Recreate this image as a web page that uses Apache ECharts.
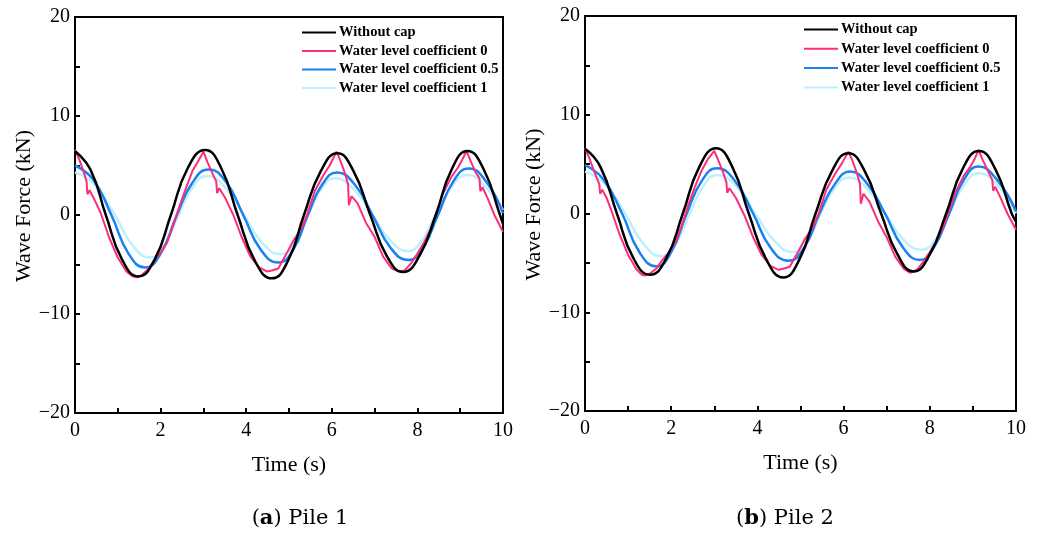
<!DOCTYPE html>
<html>
<head>
<meta charset="utf-8">
<title>Wave force on piles</title>
<script src="https://cdn.jsdelivr.net/npm/echarts@6/dist/echarts.min.js"></script>
<style>
  html, body { margin: 0; padding: 0; background: #fff; }
  #chart { width: 1042px; height: 538px; }
</style>
</head>
<body>
<div id="chart"></div>
<script>
// series names / colours
const seriesNames = ['Without cap', 'Water level coefficient 0', 'Water level coefficient 0.5', 'Water level coefficient 1'];
const seriesColors = ['#000000', '#fc2d7d', '#1b80f2', '#bdf1fa'];
const xTickLabels = [0, 2, 4, 6, 8, 10];
const yTickLabels = [-20, -10, 0, 10, 20];

// Pile 1 : [time (s), force (kN)]
const pile1WithoutCap = [[0,6.45],[0.36,4.6],[0.72,0],[1.1,-4.5],[1.48,-6.2],[1.86,-4.5],[2.24,0],[2.63,4.7],[3.04,6.57],[3.42,4.7],[3.8,0],[4.2,-4.6],[4.6,-6.4],[4.98,-4.6],[5.35,0],[5.74,4.4],[6.13,6.23],[6.51,4.4],[6.9,0],[7.28,-4.1],[7.67,-5.75],[8.05,-4.1],[8.43,0],[8.8,4.6],[9.17,6.46],[9.55,4.6],[9.93,0],[10,-0.9]];
const pile1Coef0 = [[0,6.6],[0.1,5.6],[0.2,4.4],[0.27,3.4],[0.29,2.1],[0.31,2.0],[0.34,2.5],[0.45,1.6],[0.6,0.2],[0.8,-2.3],[1.0,-4.3],[1.2,-5.7],[1.35,-6.2],[1.44,-6.3],[1.55,-6.1],[1.7,-5.5],[1.85,-4.6],[2.0,-3.8],[2.15,-2.8],[2.3,-1.0],[2.45,1.0],[2.6,2.8],[2.75,4.5],[2.9,5.6],[3.0,6.4],[3.1,5.3],[3.2,4.3],[3.3,3.4],[3.32,2.2],[3.34,2.1],[3.37,2.7],[3.5,1.8],[3.7,0],[3.9,-2.3],[4.1,-4.2],[4.3,-5.3],[4.48,-5.7],[4.6,-5.6],[4.75,-5.4],[4.93,-4.0],[5.1,-2.6],[5.3,-1.3],[5.42,0],[5.6,2.4],[5.8,4.0],[5.95,5.0],[6.11,6.4],[6.2,5.5],[6.3,4.3],[6.38,3.1],[6.4,1.0],[6.42,1.1],[6.46,1.9],[6.6,1.2],[6.8,-0.8],[7.0,-2.2],[7.2,-4.2],[7.4,-5.4],[7.55,-5.7],[7.7,-5.6],[7.85,-4.9],[8.0,-3.9],[8.15,-2.8],[8.3,-1.5],[8.45,0.3],[8.6,2.2],[8.8,3.9],[8.95,4.8],[9.05,5.6],[9.15,6.46],[9.25,5.4],[9.35,4.4],[9.45,3.7],[9.47,2.4],[9.49,2.3],[9.52,2.8],[9.65,1.6],[9.8,0],[10,-1.7]];
const pile1Coef05 = [[0,5.0],[0.42,3.6],[0.85,0],[1.25,-3.9],[1.64,-5.3],[2.0,-3.9],[2.38,0],[2.75,3.3],[3.12,4.6],[3.52,3.4],[3.93,0],[4.34,-3.5],[4.75,-4.8],[5.1,-3.5],[5.44,0],[5.78,3.1],[6.12,4.3],[6.53,3.1],[6.95,0],[7.37,-3.3],[7.79,-4.55],[8.13,-3.3],[8.48,0],[8.84,3.4],[9.2,4.7],[9.6,3.4],[10,0.17]];
const pile1Coef1 = [[0,4.3],[0.45,3.1],[0.93,0],[1.35,-3.1],[1.75,-4.3],[2.08,-3.1],[2.42,0],[2.75,2.8],[3.08,3.94],[3.5,2.85],[3.95,0],[4.38,-2.85],[4.8,-3.97],[5.13,-2.85],[5.45,0],[5.76,2.65],[6.07,3.7],[6.5,2.65],[6.95,0],[7.37,-2.6],[7.79,-3.64],[8.1,-2.6],[8.42,0],[8.8,2.85],[9.17,4.04],[9.58,2.9],[10,0.5]];

// Pile 2
const pile2WithoutCap = [[0,6.55],[0.36,4.7],[0.74,0],[1.12,-4.5],[1.51,-6.2],[1.89,-4.5],[2.27,0],[2.65,4.7],[3.04,6.6],[3.42,4.7],[3.8,0],[4.2,-4.6],[4.6,-6.48],[4.98,-4.6],[5.35,0],[5.73,4.3],[6.11,6.1],[6.49,4.3],[6.87,0],[7.25,-4.15],[7.62,-5.87],[8.0,-4.15],[8.38,0],[8.76,4.5],[9.14,6.33],[9.52,4.5],[9.9,0],[10,-0.8]];
const pile2Coef0 = [[0,6.6],[0.1,5.6],[0.2,4.4],[0.33,3.0],[0.35,2.0],[0.37,1.9],[0.4,2.4],[0.5,1.6],[0.62,0.2],[0.8,-2.1],[1.0,-4.2],[1.2,-5.7],[1.32,-6.2],[1.39,-6.28],[1.5,-6.1],[1.65,-5.6],[1.8,-4.7],[1.95,-3.9],[2.1,-2.9],[2.25,-1.2],[2.4,0.9],[2.55,2.7],[2.7,4.3],[2.85,5.5],[3.0,6.33],[3.1,5.3],[3.2,4.2],[3.28,3.2],[3.3,2.1],[3.32,2.05],[3.35,2.56],[3.5,1.6],[3.7,-0.2],[3.9,-2.4],[4.1,-4.2],[4.3,-5.3],[4.49,-5.7],[4.6,-5.6],[4.75,-5.4],[4.93,-4.0],[5.1,-2.6],[5.3,-1.3],[5.42,0],[5.6,2.4],[5.8,4.0],[5.95,5.0],[6.11,6.26],[6.2,5.4],[6.3,4.2],[6.38,3.0],[6.4,1.0],[6.42,1.05],[6.46,2.0],[6.6,1.2],[6.8,-0.8],[7.0,-2.4],[7.2,-4.4],[7.4,-5.6],[7.54,-6.0],[7.7,-5.7],[7.85,-4.9],[8.0,-3.9],[8.15,-2.8],[8.3,-1.5],[8.45,0.3],[8.6,2.2],[8.8,3.9],[8.95,4.8],[9.05,5.6],[9.13,6.43],[9.23,5.4],[9.35,4.3],[9.45,3.4],[9.47,2.3],[9.49,2.2],[9.52,2.7],[9.65,1.5],[9.8,0],[10,-1.65]];
const pile2Coef05 = [[0,4.9],[0.42,3.5],[0.86,0],[1.26,-3.9],[1.66,-5.35],[2.0,-3.9],[2.36,0],[2.71,3.3],[3.06,4.58],[3.48,3.3],[3.9,0],[4.31,-3.5],[4.72,-4.78],[5.08,-3.5],[5.44,0],[5.8,3.0],[6.15,4.25],[6.55,3.0],[6.96,0],[7.37,-3.4],[7.77,-4.7],[8.1,-3.4],[8.45,0],[8.79,3.4],[9.13,4.75],[9.56,3.4],[10,0.2]];
const pile2Coef1 = [[0,4.24],[0.45,3.05],[0.93,0],[1.36,-3.1],[1.78,-4.34],[2.1,-3.1],[2.43,0],[2.75,2.8],[3.06,3.9],[3.5,2.8],[3.95,0],[4.4,-2.8],[4.84,-3.9],[5.16,-2.8],[5.47,0],[5.8,2.6],[6.11,3.64],[6.53,2.6],[6.96,0],[7.39,-2.65],[7.81,-3.67],[8.13,-2.65],[8.45,0],[8.8,2.9],[9.13,4.07],[9.56,2.9],[10,0.03]];

const panels = [
  { data: [pile1WithoutCap, pile1Coef0, pile1Coef05, pile1Coef1], grid: { left: 75, top: 17, width: 428, height: 396 }, legendPos: { left: 301, top: 25, gap: 3.5 }, caption: 'a', pile: 'Pile 1', capX: 295 },
  { data: [pile2WithoutCap, pile2Coef0, pile2Coef05, pile2Coef1], grid: { left: 585, top: 16, width: 431, height: 395 }, legendPos: { left: 803, top: 22, gap: 4.3 }, caption: 'b', pile: 'Pile 2', capX: 780 }
];

const serif = 'Liberation Serif, Times New Roman, serif';
const lineWidths = [2.5, 2, 2.5, 2.5];
const smoothFlags = [0.5, false, 0.5, 0.5];

const minusFmt = v => (v < 0 ? '\u2212' + Math.abs(v) : String(v));

const option = {
  animation: false,
  backgroundColor: '#fff',
  title: [],
  legend: [],
  grid: [],
  xAxis: [],
  yAxis: [],
  series: []
};

panels.forEach((p, i) => {
  option.grid.push(Object.assign({ show: true, borderColor: '#000', borderWidth: 2, backgroundColor: 'transparent' }, p.grid));

  option.xAxis.push({
    type: 'value', gridIndex: i, min: 0, max: 10, interval: 1,
    name: 'Time (s)', nameLocation: 'middle', nameGap: 41,
    nameTextStyle: { fontFamily: serif, fontSize: 22, color: '#000' },
    axisLine: { show: true, onZero: false, lineStyle: { color: '#000', width: 2 } },
    axisTick: { show: true, inside: true, length: 5, lineStyle: { color: '#000', width: 2 } },
    axisLabel: { fontFamily: serif, fontSize: 20, color: '#000', margin: 8,
      formatter: v => (xTickLabels.includes(v) ? String(v) : '') },
    splitLine: { show: false }
  });

  option.yAxis.push({
    type: 'value', gridIndex: i, min: -20, max: 20, interval: 5,
    name: 'Wave Force (kN)', nameLocation: 'middle', nameGap: 40,
    nameTextStyle: { fontFamily: serif, fontSize: 22, color: '#000', padding: [0, 0, 0, 18] },
    axisLine: { show: true, onZero: false, lineStyle: { color: '#000', width: 2 } },
    axisTick: { show: true, inside: true, length: 5, lineStyle: { color: '#000', width: 2 } },
    axisLabel: { fontFamily: serif, fontSize: 20, color: '#000', margin: 5,
      formatter: v => (yTickLabels.includes(v) ? minusFmt(v) : '') },
    splitLine: { show: false }
  });

  p.data.forEach((d, k) => {
    option.series.push({
      type: 'line', name: seriesNames[k], xAxisIndex: i, yAxisIndex: i,
      data: d, symbol: 'none', smooth: smoothFlags[k], z: 10 - k,
      lineStyle: { color: seriesColors[k], width: lineWidths[k] },
      itemStyle: { color: seriesColors[k] }
    });
  });

  // legend: line icons only, symbol hidden
  option.legend.push({
    orient: 'vertical', left: p.legendPos.left, top: p.legendPos.top, padding: 0,
    data: seriesNames, itemWidth: 34, itemHeight: 14, itemGap: p.legendPos.gap,
    selectedMode: false,
    itemStyle: { opacity: 0 },
    textStyle: { fontFamily: serif, fontWeight: 'bold', fontSize: 14.5, color: '#000', padding: [0, 0, 0, -2] }
  });

  option.title.push({
    text: '(' + '{b|' + p.caption + '}' + ') ' + p.pile,
    left: p.capX, top: 503, textAlign: 'center',
    textStyle: { fontFamily: 'DejaVu Serif, serif', fontSize: 21, fontWeight: 'normal', color: '#000',
      rich: { b: { fontFamily: 'DejaVu Serif, serif', fontSize: 21, fontWeight: 'bold', color: '#000' } } }
  });
});

const chart = echarts.init(document.getElementById('chart'), null, { renderer: 'canvas' });
chart.setOption(option);
</script>
</body>
</html>
